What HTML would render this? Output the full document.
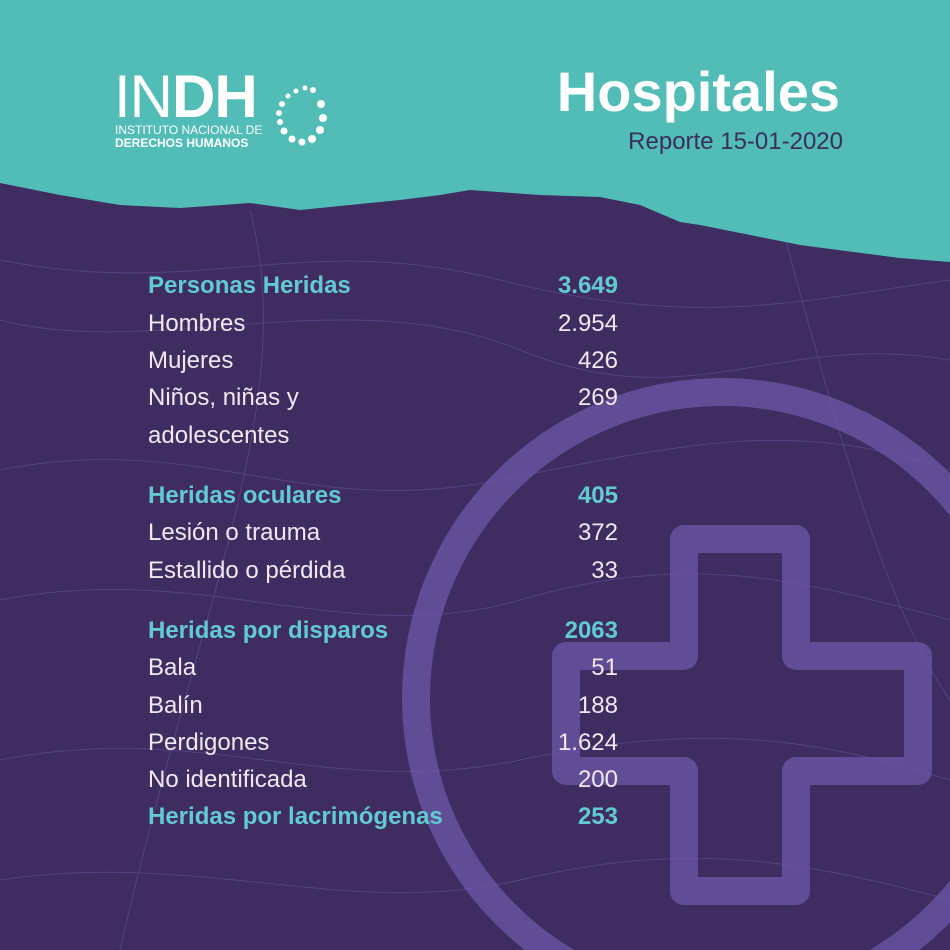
<!DOCTYPE html>
<html style="overflow:hidden"><head><meta charset="utf-8"><style>
html,body{margin:0;padding:0;width:950px;height:950px;overflow:hidden}
body{position:relative;background:#3f2c60;font-family:"Liberation Sans",sans-serif}
.t{position:absolute;font-size:24px;color:#eeeaf4;white-space:nowrap;line-height:28px}
.l{left:148px}
.r{right:332px;text-align:right}
.h{color:#62cad2;font-weight:bold}
</style></head><body>
<svg width="950" height="950" style="position:absolute;left:0;top:0;display:block">
<g stroke="#6b58a8" stroke-width="1" fill="none" opacity="0.5">
<path d="M0 260 C200 300 300 230 500 280 S800 300 950 280"/>
<path d="M0 320 C150 360 350 280 520 350 S780 330 950 360"/>
<path d="M0 470 C200 430 300 520 500 480 S800 420 950 470"/>
<path d="M0 600 C200 560 350 650 520 600 S800 580 950 620"/>
<path d="M0 760 C200 720 330 800 520 760 S820 740 950 780"/>
<path d="M0 880 C200 850 350 920 520 880 S800 860 950 900"/>
<path d="M250 210 C300 400 200 600 120 950"/>
<path d="M780 220 C830 400 880 600 950 700"/>
</g>
<circle cx="722" cy="698" r="306" fill="none" stroke="#6a56a4" stroke-width="28" opacity="0.8"/>
<path d="M684 539 H796 V656 H918 V771 H796 V891 H684 V771 H566 V656 H684 Z" fill="none" stroke="#6a56a4" stroke-width="28" stroke-linejoin="round" opacity="0.8"/>
<path d="M0 0 H950 V262 L900 258 L800 245 L700 225 L680 222 L640 205 L600 197 L540 195 L470 190 L440 195 L400 200 L300 210 L250 203 L180 208 L120 205 L60 195 L0 183 Z" fill="#52bdb7"/>
<g fill="#fff">
<text x="114" y="117" font-size="60" font-family="Liberation Sans" font-weight="300" letter-spacing="-1">IN<tspan font-weight="bold">DH</tspan></text>
<text x="115" y="134" font-size="12" font-family="Liberation Sans">INSTITUTO NACIONAL DE</text>
<text x="115" y="147" font-size="12" font-family="Liberation Sans" font-weight="bold">DERECHOS HUMANOS</text>
<circle cx="296" cy="91" r="2.5"/><circle cx="305" cy="88" r="2.5"/><circle cx="313" cy="90" r="3"/>
<circle cx="288" cy="96" r="2.5"/><circle cx="282" cy="104" r="3"/><circle cx="279" cy="113" r="3"/>
<circle cx="280" cy="122" r="3"/><circle cx="284" cy="131" r="3.5"/><circle cx="292" cy="139" r="3.5"/>
<circle cx="302" cy="142" r="3.5"/><circle cx="312" cy="139" r="4"/><circle cx="320" cy="130" r="4"/>
<circle cx="323" cy="118" r="4"/><circle cx="321" cy="104" r="4"/>
</g>
</svg>
<div class="t" style="right:110px;top:62px;font-size:56px;line-height:60px;font-weight:bold;color:#fff">Hospitales</div>
<div class="t" style="right:107px;top:128px;font-size:24px;color:#3b2d5e">Reporte 15-01-2020</div>

<div class="t l h" style="top:272px">Personas Heridas</div><div class="t r h" style="top:272px">3.649</div>
<div class="t l" style="top:310px">Hombres</div><div class="t r" style="top:310px">2.954</div>
<div class="t l" style="top:347px">Mujeres</div><div class="t r" style="top:347px">426</div>
<div class="t l" style="top:384px">Niños, niñas y</div><div class="t r" style="top:384px">269</div>
<div class="t l" style="top:422px">adolescentes</div>

<div class="t l h" style="top:482px">Heridas oculares</div><div class="t r h" style="top:482px">405</div>
<div class="t l" style="top:519px">Lesión o trauma</div><div class="t r" style="top:519px">372</div>
<div class="t l" style="top:557px">Estallido o pérdida</div><div class="t r" style="top:557px">33</div>

<div class="t l h" style="top:617px">Heridas por disparos</div><div class="t r h" style="top:617px">2063</div>
<div class="t l" style="top:654px">Bala</div><div class="t r" style="top:654px">51</div>
<div class="t l" style="top:692px">Balín</div><div class="t r" style="top:692px">188</div>
<div class="t l" style="top:729px">Perdigones</div><div class="t r" style="top:729px">1.624</div>
<div class="t l" style="top:766px">No identificada</div><div class="t r" style="top:766px">200</div>
<div class="t l h" style="top:803px">Heridas por lacrimógenas</div><div class="t r h" style="top:803px">253</div>
</body></html>
